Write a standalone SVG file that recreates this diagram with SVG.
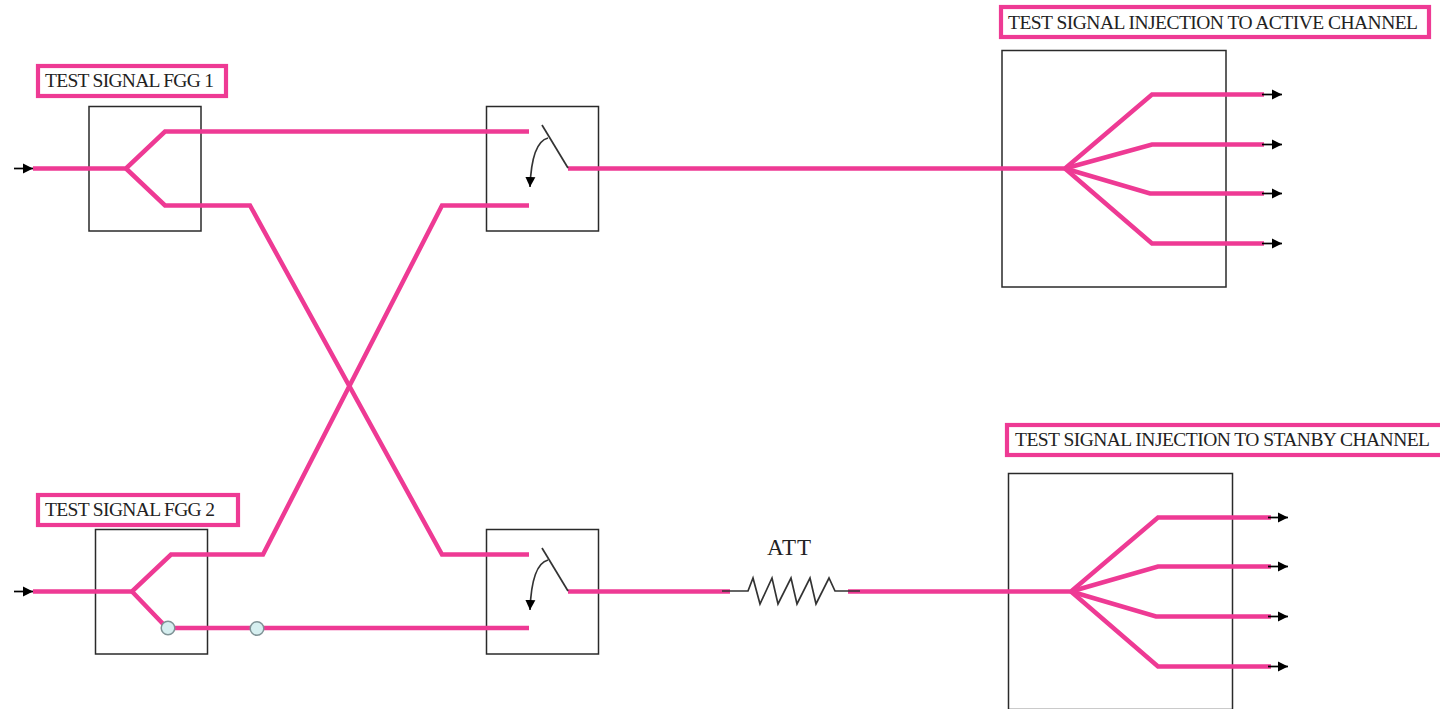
<svg xmlns="http://www.w3.org/2000/svg" width="1440" height="709" viewBox="0 0 1440 709">
<style>
.box{fill:#fff;stroke:#2a2a2a;stroke-width:1.5}
.label{fill:#fff;stroke:#ee3a94;stroke-width:4.200}
.sig{fill:none;stroke:#ee3a94;stroke-width:4.500;stroke-linejoin:miter}
.thin{fill:none;stroke:#333;stroke-width:1.700}
.lead{fill:none;stroke:#000;stroke-width:1.700}
.t{font-family:"Liberation Serif","Times New Roman",serif;font-size:19.500px;fill:#222}
.att{font-family:"Liberation Serif","Times New Roman",serif;font-size:23px;fill:#222}
.dot{fill:#d6eff0;stroke:#7f9396;stroke-width:1.500}
</style>
<defs>
<marker id="ah" markerUnits="userSpaceOnUse" markerWidth="11" markerHeight="11" refX="10" refY="5.500" orient="auto"><path d="M0 0.500L10 5.500L0 10.500Z" fill="#000"/></marker>
</defs>
<rect width="1440" height="709" fill="#fff"/>
<g id="box-fgg1"><rect class="box" x="89" y="106.500" width="112" height="124.500"/></g>
<g id="box-fgg2"><rect class="box" x="95.500" y="529.500" width="112" height="124.500"/></g>
<g id="switch-top"><rect class="box" x="486.500" y="106.500" width="112" height="124.500"/></g>
<g id="switch-bottom"><rect class="box" x="486.500" y="529.500" width="112" height="124.500"/></g>
<g id="box-active"><rect class="box" x="1002" y="50.500" width="224" height="236.500"/></g>
<g id="box-standby"><rect class="box" x="1008.500" y="473.500" width="224" height="236"/></g>
<g id="connectors" transform="translate(0 .5)">
<path class="sig" d="M33 168H126L165 131H529"/>
<path class="sig" d="M126 168L165 205H250L442 554H529"/>
<path class="sig" d="M33 591H132L171 554H263L442 205H529"/>
<path class="sig" d="M132 591L167 627.500H529"/>
<path class="sig" d="M568 168H1065L1152 94H1264"/>
<path class="sig" d="M1065 168L1152 144H1264"/>
<path class="sig" d="M1065 168L1150 193H1264"/>
<path class="sig" d="M1065 168L1152 243H1264"/>
<path class="sig" d="M568 591H730"/>
<path class="sig" d="M848 591H1071L1158 517H1271"/>
<path class="sig" d="M1071 591L1158 566H1271"/>
<path class="sig" d="M1071 591L1156 616H1271"/>
<path class="sig" d="M1071 591L1158 666H1271"/>
<path class="lead" marker-end="url(#ah)" d="M14 168H33"/>
<path class="lead" marker-end="url(#ah)" d="M14 591H33"/>
<path class="lead" marker-end="url(#ah)" d="M1262 94H1282"/>
<path class="lead" marker-end="url(#ah)" d="M1262 144H1282"/>
<path class="lead" marker-end="url(#ah)" d="M1262 193H1282"/>
<path class="lead" marker-end="url(#ah)" d="M1262 243H1282"/>
<path class="lead" marker-end="url(#ah)" d="M1268 517H1288"/>
<path class="lead" marker-end="url(#ah)" d="M1268 566H1288"/>
<path class="lead" marker-end="url(#ah)" d="M1268 616H1288"/>
<path class="lead" marker-end="url(#ah)" d="M1268 666H1288"/>
</g>
<g id="switch-top-contact">
<path class="thin" d="M542 125L568 168"/>
<path class="thin" marker-end="url(#ah)" d="M548 138C536 141 531 160 530 187"/>
</g>
<g id="switch-bottom-contact">
<path class="thin" d="M542 548L568 591"/>
<path class="thin" marker-end="url(#ah)" d="M548 560C536 563 531 583 530 610"/>
</g>
<g id="attenuator">
<path class="thin" d="M722 591H748L753 578L760 604L772 578L778 604L791 578L797 604L810 578L816 604L829 578L835 591H860"/>
<text class="att" x="767" y="555" textLength="44" lengthAdjust="spacing">ATT</text>
</g>
<g id="junction-1"><circle class="dot" cx="168" cy="628" r="6.800"/></g>
<g id="junction-2"><circle class="dot" cx="257" cy="628.500" r="6.800"/></g>
<g id="label-fgg1"><rect class="label" x="38" y="66" width="188" height="30"/><text class="t" x="45" y="87" textLength="169" lengthAdjust="spacing">TEST SIGNAL FGG 1</text></g>
<g id="label-fgg2"><rect class="label" x="38" y="495" width="200" height="30"/><text class="t" x="45" y="516" textLength="170" lengthAdjust="spacing">TEST SIGNAL FGG 2</text></g>
<g id="label-active"><rect class="label" x="1001" y="7" width="428" height="30"/><text class="t" x="1008" y="29" textLength="410" lengthAdjust="spacing">TEST SIGNAL INJECTION TO ACTIVE CHANNEL</text></g>
<g id="label-standby"><rect class="label" x="1007" y="425" width="436" height="30"/><text class="t" x="1015" y="446" textLength="415" lengthAdjust="spacing">TEST SIGNAL INJECTION TO STANBY CHANNEL</text></g>
</svg>
